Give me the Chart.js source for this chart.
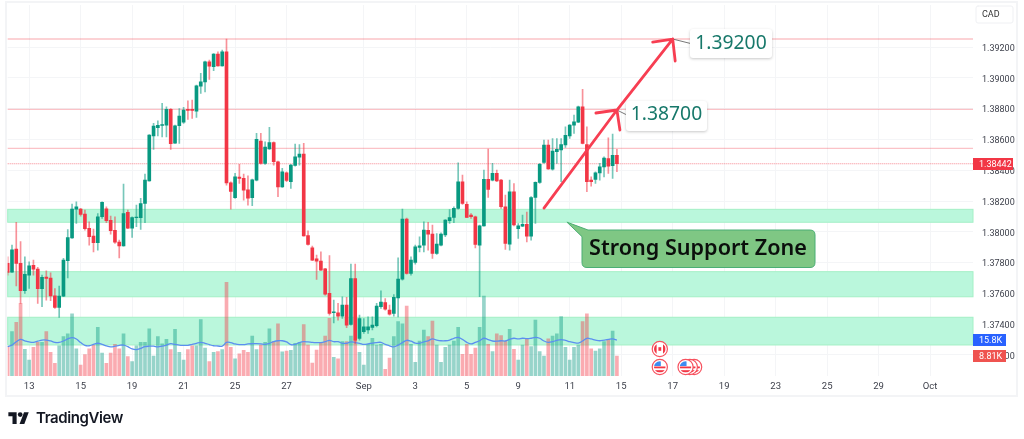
<!DOCTYPE html>
<html>
<head>
<meta charset="utf-8">
<title>USD/CAD</title>
<script src="https://cdn.jsdelivr.net/npm/chart.js@4/dist/chart.umd.min.js"></script>
<style>
  html, body { margin: 0; padding: 0; background: #fff; }
  #wrap { position: relative; width: 1024px; height: 439px; overflow: hidden; }
  #frame { position: absolute; left: 5px; top: 1px; width: 1009px; height: 392px; border: 2px solid #f3f4f6; }
  canvas { position: absolute; left: 0; top: 0; filter: blur(0.3px); }
  #logo { position: absolute; left: 8px; top: 408px; display: flex; align-items: center; gap: 6px; }
  #logo span { font: 600 15px Inter, sans-serif; color: #131722; letter-spacing: -0.4px; }
</style>
</head>
<body>
<div id="wrap">
  <div id="frame"></div>
  <canvas id="chart" width="1024" height="439"></canvas>
  <div id="logo">
    <svg width="22" height="13" viewBox="0 0 36 22"><path fill="#131722" d="M14 22H7V9H0V2h14v20z"/><circle fill="#131722" cx="20" cy="6" r="4"/><path fill="#131722" d="M27 22h-8l7.5-20h8L27 22z"/></svg>
    <span>TradingView</span>
  </div>
</div>
<script>
// 1. Data: candles in points above 1.37000, 4h bars
const opens = [
  795,738,888,795,617,719,782,758,630,706,
  699,584,509,582,812,961,1147,1147,1115,1022,
  972,929,1098,1150,1074,1009,933,909,1126,1024,
  1091,1091,1184,1331,1622,1676,1691,1693,1795,1576,
  1689,1712,1795,1795,1784,1946,1974,2104,2072,2154,
  2078,2169,1318,1221,1355,1347,1273,1221,1336,1589,
  1444,1539,1580,1455,1292,1383,1325,1431,1485,1505,
  976,896,825,810,760,600,474,474,452,524,
  398,697,307,351,362,379,390,513,541,491,
  470,571,693,1082,730,801,898,914,1009,985,
  859,914,979,1072,1093,1152,1325,1178,1108,1098,
  914,1039,1340,1336,1379,1336,1163,920,1260,1020,
  1037,1048,972,1223,1321,1450,1563,1407,1520,1531,
  1565,1622,1693,1712,1812,1567,1336,1340,1383,1422,
  1476,1429,1496
];
const closes = [
  736,883,795,617,723,779,758,630,704,697,
  584,509,582,816,963,1147,1163,1113,1020,968,
  929,1098,1191,1072,1007,933,909,1119,1024,1093,
  1095,1184,1336,1628,1686,1691,1697,1795,1572,1689,
  1751,1790,1788,1788,1948,1974,2104,2076,2154,2078,
  2169,1318,1262,1357,1347,1271,1219,1338,1600,1444,
  1550,1580,1455,1292,1390,1334,1433,1487,1505,974,
  918,816,810,751,595,470,481,452,524,394,
  697,297,437,383,383,394,517,543,498,465,
  574,693,1082,730,816,903,909,1011,985,859,
  920,985,1076,1093,1152,1325,1184,1093,1098,918,
  1039,1340,1275,1379,1331,1163,924,1260,1044,1039,
  1048,972,1223,1321,1438,1563,1409,1524,1535,1567,
  1626,1693,1715,1812,1574,1325,1325,1383,1422,1479,
  1427,1496,1442
];
const highs = [
  838,914,1061,937,838,805,816,770,719,747,
  734,632,647,827,1015,1180,1195,1152,1141,1065,
  1017,1119,1195,1163,1102,1098,946,1310,1141,1098,
  1173,1217,1375,1632,1704,1721,1834,1812,1800,1693,
  1801,1808,1851,1855,1953,2029,2109,2115,2158,2169,
  2180,2252,1325,1379,1438,1375,1364,1342,1639,1639,
  1585,1678,1585,1459,1412,1390,1438,1570,1567,1574,
  1007,907,849,870,762,846,556,535,578,574,
  790,790,459,437,448,448,535,617,567,524,
  593,831,1147,1089,838,914,968,1065,1061,1044,
  989,994,1080,1145,1163,1448,1368,1195,1119,1102,
  1044,1401,1537,1444,1401,1340,1238,1336,1314,1054,
  1108,1128,1228,1325,1444,1596,1596,1606,1606,1606,
  1682,1697,1758,1816,1925,1682,1357,1390,1444,1487,
  1611,1635,1535
];
const lows = [
  719,736,649,535,600,632,719,535,513,556,
  552,502,444,578,701,957,1054,1102,1011,914,
  870,881,1087,1059,985,924,831,907,1020,963,
  1033,1015,1059,1329,1535,1622,1617,1617,1535,1574,
  1574,1704,1730,1736,1743,1899,1909,1990,2046,2076,
  2076,1303,1147,1217,1314,1206,1173,1169,1331,1440,
  1438,1535,1433,1228,1288,1325,1282,1427,1433,972,
  914,812,691,749,589,459,409,426,437,377,
  394,275,297,340,340,362,383,502,491,459,
  452,448,686,725,719,790,870,870,881,827,
  853,909,968,1054,1059,1147,1178,1091,1087,896,
  578,1037,1223,1331,1325,1152,885,881,1039,957,
  1033,935,946,1054,1314,1444,1405,1401,1444,1325,
  1548,1606,1639,1708,1570,1260,1297,1314,1336,1357,
  1379,1347,1390
];
// volume in thousands
const volumes = [
  12.9,19.5,23.6,32.0,11.7,7.0,12.6,14.8,14.8,19.5,
  10.4,5.6,13.3,17.3,18.5,27.3,11.9,4.8,9.4,11.9,
  13.6,21.4,10.1,5.6,10.1,13.9,11.9,18.5,8.5,6.3,
  13.3,14.8,14.8,20.7,8.8,17.3,14.1,16.1,11.6,20.5,
  10.4,7.0,11.6,13.3,13.3,24.8,12.3,6.3,10.4,10.7,
  11.6,41.2,12.6,7.5,9.7,11.3,10.4,17.6,11.6,13.6,
  14.8,20.7,15.1,22.9,10.6,11.0,11.3,14.4,14.7,22.6,
  13.6,5.7,11.4,14.4,17.6,25.4,8.2,7.5,15.1,15.1,
  17.6,15.8,10.4,4.8,13.9,16.6,13.6,13.9,2.9,7.9,
  17.3,23.9,23.0,30.8,13.9,6.0,15.4,20.2,17.3,24.2,
  13.6,6.0,12.6,13.6,15.4,21.4,9.5,13.9,9.5,12.3,
  21.4,35.2,13.9,10.7,18.5,17.8,15.4,20.5,11.7,7.0,
  13.6,16.6,12.9,24.6,10.7,8.8,16.3,17.6,18.5,26.1,
  12.6,7.0,12.6,13.6,23.9,27.3,11.9,11.0,11.9,15.1,
  16.1,19.8,8.81
];
const volumeMa = [
  12.9,13.6,15.1,16.1,15.5,15.0,14.8,15.3,15.8,15.8,
  15.4,14.8,14.8,15.4,16.3,16.9,16.3,14.7,13.5,13.3,
  13.9,14.4,13.9,13.2,12.8,13.1,13.5,13.6,12.9,11.9,
  11.6,12.2,12.9,13.1,13.1,12.8,13.1,13.6,14.2,13.9,
  13.6,13.5,13.5,13.9,14.4,14.8,14.4,13.8,13.3,13.2,
  13.1,14.8,14.7,14.1,13.8,13.8,14.1,14.2,14.2,14.1,
  13.9,14.4,15.1,15.5,15.5,15.0,13.8,13.9,14.7,15.1,
  15.0,14.8,14.7,14.7,15.1,15.7,15.1,15.1,14.4,14.4,
  15.0,14.7,14.4,13.9,14.1,14.5,14.7,14.8,13.9,13.3,
  12.8,13.6,14.7,15.7,15.3,14.5,14.4,15.0,15.5,16.3,
  15.8,15.5,15.5,15.8,16.6,17.0,16.1,14.8,14.1,14.8,
  15.5,16.6,16.0,15.4,15.3,15.5,15.4,16.1,16.6,16.3,
  16.6,16.4,16.6,17.0,16.6,15.4,14.8,15.1,15.7,16.0,
  15.7,15.1,14.7,14.5,15.4,16.6,16.3,15.8,15.5,15.8,
  16.1,16.3,15.8
];

const barCount = 226; // bars plus empty future space
const tickIndices = [5,17,29,41,53,65,83,95,107,119,131,143,155,167,179,191,203,215];
const tickLabels = ['13','15','19','21','25','27','Sep','3','5','9','11','15','17','19','23','25','29','Oct'];
const priceTicks = [1.392,1.39,1.388,1.386,1.384,1.382,1.38,1.378,1.376,1.374,1.372];

const hLines = [1.39252,1.38795,1.38542];
const lastPrice = 1.38442;
const zoneTops = [1.38146,1.37741,1.37445];
const zoneBottoms = [1.38062,1.37578,1.37265];
const arrowIndices = [125,142,155];
const arrowPrices = [1.38154,1.38791,1.39252];
const canadaEvents = [152];
const usEvents = [152,160,159,158];

const GREEN = '#089981';
const RED = '#f23645';
const categories = Array.from({ length: barCount }, (_, i) => i);
const toPrice = p => 1.37 + p / 100000;

// 2. Zones and horizontal lines go under the candles
const underlay = {
    id: 'underlay',
    beforeDatasetsDraw(chart) {
        const { ctx, chartArea: a, scales: { y } } = chart;
        ctx.save();
        ctx.fillStyle = 'rgb(186,247,220)';
        ctx.strokeStyle = 'rgb(164,240,198)';
        ctx.lineWidth = 1;
        zoneTops.forEach((top, i) => {
            const t = y.getPixelForValue(top);
            const h = y.getPixelForValue(zoneBottoms[i]) - t;
            ctx.fillRect(a.left, t, a.right - a.left, h);
            ctx.strokeRect(a.left, t, a.right - a.left, h);
        });
        ctx.strokeStyle = 'rgba(242,54,69,0.3)';
        ctx.lineWidth = 1.4;
        hLines.forEach(v => {
            ctx.beginPath();
            ctx.moveTo(a.left, y.getPixelForValue(v));
            ctx.lineTo(a.right, y.getPixelForValue(v));
            ctx.stroke();
        });
        ctx.lineWidth = 1;
        ctx.strokeStyle = 'rgba(242,54,69,0.6)';
        ctx.setLineDash([1, 1]);
        ctx.beginPath();
        ctx.moveTo(a.left, y.getPixelForValue(lastPrice));
        ctx.lineTo(a.right, y.getPixelForValue(lastPrice));
        ctx.stroke();
        ctx.restore();
    }
};

function drawCallout(ctx, text, x, y, w, h, textY) {
    ctx.save();
    ctx.shadowColor = 'rgba(0,0,0,0.22)';
    ctx.shadowBlur = 3;
    ctx.shadowOffsetY = 1;
    ctx.fillStyle = '#fff';
    ctx.beginPath();
    ctx.roundRect(x, y, w, h, 3);
    ctx.fill();
    ctx.restore();
    ctx.fillStyle = '#17786a';
    ctx.font = '19.3px "Noto Sans"';
    ctx.textAlign = 'center';
    ctx.textBaseline = 'middle';
    ctx.fillText(text, x + w / 2, textY);
}

function drawAxisTag(ctx, text, color, x, y, w, h) {
    ctx.fillStyle = color;
    ctx.fillRect(x, y, w, h);
    ctx.fillStyle = '#fff';
    ctx.font = '9px Roboto';
    ctx.textAlign = 'left';
    ctx.textBaseline = 'middle';
    ctx.fillText(text, x + 6, y + h / 2 + 0.5);
}

function drawFlag(ctx, x, y, kind) {
    ctx.save();
    ctx.beginPath();
    ctx.arc(x, y, 7.6, 0, Math.PI * 2);
    ctx.fillStyle = '#fff';
    ctx.fill();
    ctx.strokeStyle = '#f7525f';
    ctx.lineWidth = 1.2;
    ctx.stroke();
    ctx.beginPath();
    ctx.arc(x, y, 5.8, 0, Math.PI * 2);
    ctx.clip();
    if (kind === 'ca') {
        ctx.fillStyle = '#f23645';
        ctx.fillRect(x - 5.8, y - 6, 2.6, 12);
        ctx.fillRect(x + 3.2, y - 6, 2.6, 12);
        ctx.fillRect(x - 1.4, y - 1.8, 2.8, 3.6);
    } else {
        ctx.fillStyle = '#f23645';
        ctx.fillRect(x - 6, y - 0.5, 12, 1.8);
        ctx.fillRect(x - 6, y + 3.2, 12, 2.2);
        ctx.fillStyle = '#3d8bf2';
        ctx.fillRect(x - 6, y - 6, 7, 5);
    }
    ctx.restore();
}

// 3. Drawings on top: arrows, callouts, axis tags, event flags
const overlay = {
    id: 'overlay',
    afterDraw(chart) {
        const { ctx, scales: { x, y } } = chart;
        const px = arrowIndices.map(i => x.getPixelForValue(i));
        const py = arrowPrices.map(v => y.getPixelForValue(v));
        ctx.save();

        // thin leaders from the arrow tips to the callouts
        ctx.strokeStyle = '#555';
        ctx.lineWidth = 0.8;
        ctx.beginPath();
        ctx.moveTo(px[1], py[1]);
        ctx.lineTo(px[1] + 9, py[1] + 4.5);
        ctx.moveTo(px[2], py[2]);
        ctx.lineTo(px[2] + 18, py[2] + 4.5);
        ctx.stroke();

        ctx.strokeStyle = '#f73e52';
        ctx.lineWidth = 2.8;
        ctx.lineCap = 'round';
        ctx.lineJoin = 'round';
        ctx.beginPath();
        ctx.moveTo(px[0], py[0]);
        ctx.lineTo(px[1], py[1]);
        ctx.lineTo(px[2], py[2]);
        // arrow heads
        ctx.moveTo(px[1] - 21, py[1] + 3);
        ctx.lineTo(px[1], py[1]);
        ctx.lineTo(px[1] + 3, py[1] + 20);
        ctx.moveTo(px[2] - 20, py[2] + 3);
        ctx.lineTo(px[2], py[2]);
        ctx.lineTo(px[2] + 2.5, py[2] + 22);
        ctx.stroke();

        drawCallout(ctx, '1.39200', 690, 29, 82, 29, 43.5);
        drawCallout(ctx, '1.38700', 626, 101, 81, 30, 115);

        // support zone bubble
        ctx.beginPath();
        ctx.moveTo(567.3, 222.3);
        ctx.lineTo(588, 230);
        ctx.lineTo(810, 230);
        ctx.quadraticCurveTo(815, 230, 815, 235);
        ctx.lineTo(815, 262.5);
        ctx.quadraticCurveTo(815, 267.5, 810, 267.5);
        ctx.lineTo(587, 267.5);
        ctx.quadraticCurveTo(582, 267.5, 582, 262.5);
        ctx.lineTo(582, 237);
        ctx.closePath();
        ctx.fillStyle = '#7fc784';
        ctx.fill();
        ctx.strokeStyle = '#4bae74';
        ctx.lineWidth = 1;
        ctx.stroke();
        ctx.fillStyle = '#0b0f0c';
        ctx.font = '600 21.6px "Noto Sans"';
        ctx.textAlign = 'center';
        ctx.textBaseline = 'middle';
        ctx.fillText('Strong Support Zone', 698, 248.5);

        // currency box
        ctx.fillStyle = '#fff';
        ctx.strokeStyle = '#eff0f3';
        ctx.beginPath();
        ctx.roundRect(976, 6, 37, 17, 2);
        ctx.fill();
        ctx.stroke();
        ctx.fillStyle = '#333';
        ctx.font = '9px Roboto';
        ctx.textAlign = 'left';
        ctx.fillText('CAD', 982, 15);

        drawAxisTag(ctx, '1.38442', RED, 973, 158, 40, 12);
        drawAxisTag(ctx, '15.8K', '#2962ff', 973, 334, 33, 12);
        drawAxisTag(ctx, '8.81K', '#ef5350', 973, 350, 33, 12);

        canadaEvents.forEach(i => drawFlag(ctx, x.getPixelForValue(i), 349, 'ca'));
        usEvents.forEach(i => drawFlag(ctx, x.getPixelForValue(i), 367, 'us'));
        ctx.restore();
    }
};

// 4. Chart
const isUp = closes.map((c, i) => c >= opens[i]);

new Chart(document.getElementById('chart').getContext('2d'), {
    type: 'bar',
    data: {
        labels: categories,
        datasets: [
            {
                type: 'bar', label: 'body', order: 1, yAxisID: 'y', barThickness: 3,
                data: opens.map((o, i) => [toPrice(o), toPrice(closes[i])]),
                backgroundColor: isUp.map(up => up ? GREEN : RED)
            },
            {
                type: 'bar', label: 'wick', order: 2, yAxisID: 'y', barThickness: 1,
                data: lows.map((l, i) => [toPrice(l), toPrice(highs[i])]),
                backgroundColor: isUp.map(up => up ? 'rgba(8,153,129,0.55)' : 'rgba(242,54,69,0.55)')
            },
            {
                type: 'line', label: 'volume ma', order: 3, yAxisID: 'yVol',
                data: volumeMa, borderColor: '#5b8ff0', borderWidth: 1.3,
                pointRadius: 0, tension: 0.4
            },
            {
                type: 'bar', label: 'volume', order: 4, yAxisID: 'yVol', barThickness: 3,
                data: volumes,
                backgroundColor: isUp.map(up => up ? 'rgba(8,153,129,0.42)' : 'rgba(242,54,69,0.42)')
            }
        ]
    },
    options: {
        responsive: false,
        animation: false,
        devicePixelRatio: 1,
        layout: { padding: { left: 7.7, top: 5, right: 0, bottom: 43 } },
        plugins: { legend: { display: false }, tooltip: { enabled: false } },
        datasets: { bar: { grouped: false, borderWidth: 0 } },
        scales: {
            x: {
                type: 'category',
                offset: false,
                grid: { offset: false, color: '#f4f5f7', drawTicks: false },
                border: { display: false },
                afterBuildTicks(scale) { scale.ticks = tickIndices.map(i => ({ value: i })); },
                afterFit(scale) { scale.height = 20; scale.paddingLeft = 0; scale.paddingRight = 0; },
                ticks: {
                    autoSkip: false, maxRotation: 0, padding: 5,
                    font: { family: 'Roboto', size: 9.5 }, color: '#3c3f4a',
                    callback: v => tickLabels[tickIndices.indexOf(v)]
                }
            },
            y: {
                position: 'right',
                min: 1.370635,
                max: 1.39473,
                grid: { color: '#f4f5f7', drawTicks: false },
                border: { display: false },
                afterBuildTicks(scale) { scale.ticks = priceTicks.map(v => ({ value: v })); },
                afterFit(scale) { scale.width = 51; scale.paddingTop = 0; scale.paddingBottom = 0; },
                ticks: {
                    padding: 9, labelOffset: 1.5,
                    font: { family: 'Roboto', size: 9 }, color: '#3c3f4a',
                    callback: v => v.toFixed(5)
                }
            },
            yVol: {
                display: false,
                min: 0,
                max: 163.2
            }
        }
    },
    plugins: [underlay, overlay]
});
</script>
</body>
</html>
